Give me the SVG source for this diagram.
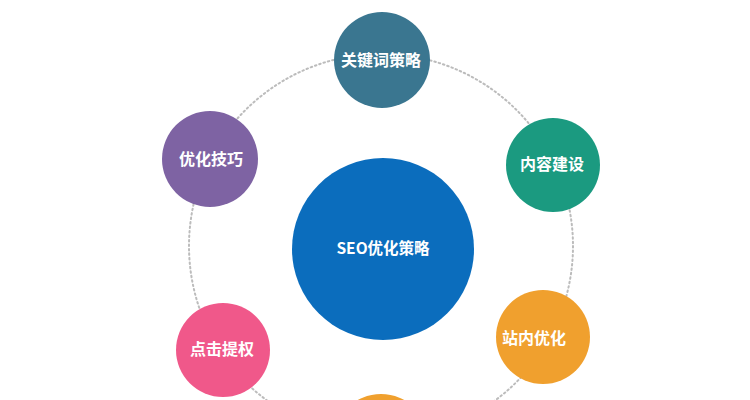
<svg xmlns="http://www.w3.org/2000/svg" width="750" height="400" viewBox="0 0 750 400">
<style>
.lbl{font-family:"Noto Sans CJK SC","Noto Sans",sans-serif;font-size:16px;font-weight:bold;fill:#fff;text-anchor:middle}
.ring{fill:none;stroke:#bcbcbc;stroke-width:2;stroke-dasharray:1.5 3;stroke-linecap:round}
</style>
<rect width="750" height="400" fill="#fff"/>
<g id="connectors">
<circle class="ring" cx="381" cy="246" r="192"/>
</g>
<g id="center">
<circle cx="383" cy="249" r="91" fill="#0b6dbd"/>
<text class="lbl" x="383" y="254" style="font-size:15.5px">SEO优化策略</text>
</g>
<g id="n-keywords">
<circle cx="382" cy="60" r="48" fill="#3a7690"/>
<text class="lbl" x="381" y="66">关键词策略</text>
</g>
<g id="n-content">
<circle cx="553" cy="165" r="47" fill="#1b9a80"/>
<text class="lbl" x="552" y="170">内容建设</text>
</g>
<g id="n-onsite">
<circle cx="543" cy="337" r="47" fill="#f0a02e"/>
<text class="lbl" x="534" y="344">站内优化</text>
</g>
<g id="n-bottom">
<circle cx="381" cy="442" r="48" fill="#f0a02e"/>
</g>
<g id="n-click">
<circle cx="223" cy="350" r="47" fill="#f0588a"/>
<text class="lbl" x="222" y="355">点击提权</text>
</g>
<g id="n-tips">
<circle cx="210" cy="159" r="48" fill="#7e63a3"/>
<text class="lbl" x="211" y="165">优化技巧</text>
</g>
</svg>
